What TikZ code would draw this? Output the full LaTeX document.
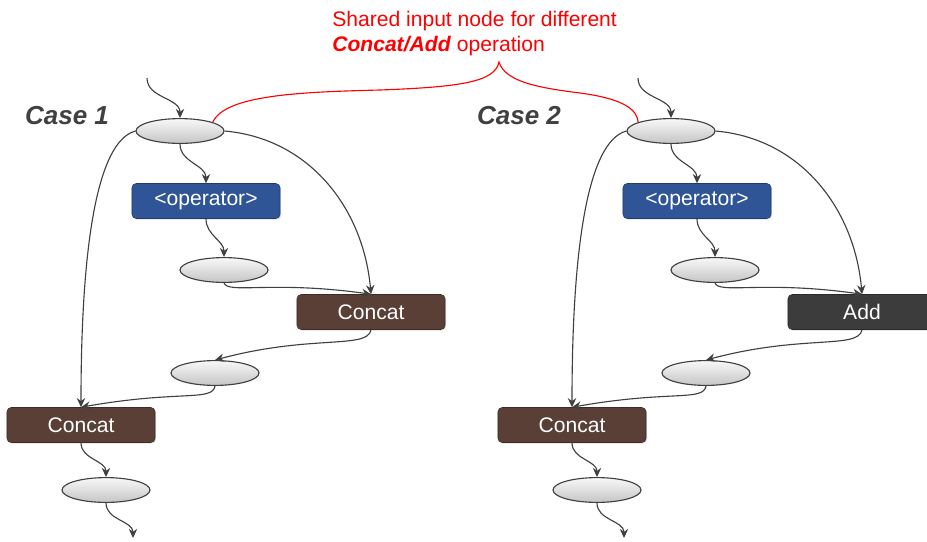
\documentclass[tikz,border=0pt]{standalone}
\usepackage{fontspec}
\setmainfont{Liberation Sans}
\usetikzlibrary{arrows.meta,positioning,shapes.geometric,shadows}
\definecolor{opblue}{HTML}{2F5597}
\definecolor{concatbrown}{HTML}{5A3F37}
\definecolor{adddark}{HTML}{3C3C3C}
\definecolor{edgegray}{HTML}{404040}
\definecolor{notered}{HTML}{FF0000}
\tikzset{
  tensor/.style={ellipse, draw=edgegray, line width=0.8pt, top color=gray!6,
    bottom color=gray!45, minimum width=2.2cm, minimum height=0.62cm, inner sep=0pt},
  opbox/.style={draw=opblue!70!black, rounded corners=3pt, fill=opblue, text=white,
    minimum width=3.7cm, minimum height=0.875cm, inner sep=0pt,
    font=\fontsize{15}{18}\selectfont,
    drop shadow={opacity=0.25, shadow xshift=0.8pt, shadow yshift=-0.8pt}},
  concatbox/.style={opbox, fill=concatbrown, draw=concatbrown!70!black},
  addbox/.style={opbox, fill=adddark, draw=adddark!70!black},
  caselabel/.style={text=edgegray, font=\fontsize{18.5}{22}\selectfont\bfseries\itshape},
  note/.style={text=notered, align=left, inner sep=0pt, font=\fontsize{15}{17.8}\selectfont},
  arr/.style={-{Stealth[length=6.5pt,width=6pt]}, draw=edgegray, line width=0.8pt},
  brace/.style={draw=notered, line width=0.8pt}
}

\begin{document}
\begin{tikzpicture}[x=0.025cm, y=0.025cm]
  \useasboundingbox (0,0) rectangle (927,-541);
  \node[note, anchor=north west] (note) at (332,-11)
    {Shared input node for different\\\textbf{\textit{Concat/Add}} operation};

  \foreach \c/\dx/\lx/\kind/\optext in {1/0/67/concatbox/Concat, 2/491/28/addbox/Add} {
    \begin{scope}[shift={(\dx,0)}]
      \node[caselabel] (case\c) at (\lx,-116) {Case \c};
      \coordinate (in\c) at (147,-78);
      \node[tensor] (top\c) at (180,-131) {};
      \node[opbox] (op\c) at (206,-201) {<operator>};
      \node[tensor] (mid\c) at (224,-270) {};
      \node[\kind] (cc\c) at (371,-312) {\optext};
      \node[tensor] (low\c) at (215,-373) {};
      \node[concatbox] (join\c) at (81,-425) {Concat};
      \node[tensor] (bot\c) at (106,-490) {};
      \coordinate (out\c) at (133,-538);

      \draw[arr] (in\c) to[out=-90, in=90] (top\c.north);
      \draw[arr] (top\c.south) to[out=-90, in=90] (op\c.north);
      \draw[arr] (op\c.south) to[out=-90, in=90] (mid\c.north);
      \draw[arr] (mid\c.south) to[out=-70, in=172, out distance=0.3cm, in distance=2.5cm] (cc\c.north);
      \draw[arr] (top\c.east) to[out=-5, in=95] (cc\c.north);
      \draw[arr] (cc\c.south) to[out=-100, in=15, out distance=0.5cm, in distance=2.5cm] (low\c.north);
      \draw[arr] (top\c.west) to[out=195, in=90, out distance=1cm, in distance=4cm] (join\c.north);
      \draw[arr] (low\c.south) to[out=-100, in=10, out distance=0.4cm, in distance=2.5cm] (join\c.north);
      \draw[arr] (join\c.south) to[out=-90, in=90] (bot\c.north);
      \draw[arr] (bot\c.south) to[out=-90, in=90] (out\c);
    \end{scope}
  }

  % brace from the two shared inputs up to the note
  \coordinate (bracetip) at (499,-62);
  \draw[brace] (top1.15) .. controls (225,-95) and (300,-92) .. (380,-90)
    .. controls (460,-87) and (495,-82) .. (bracetip)
    .. controls (505,-82) and (540,-88) .. (580,-93)
    .. controls (625,-99) and (637,-110) .. (top2.165);
\end{tikzpicture}
\end{document}
